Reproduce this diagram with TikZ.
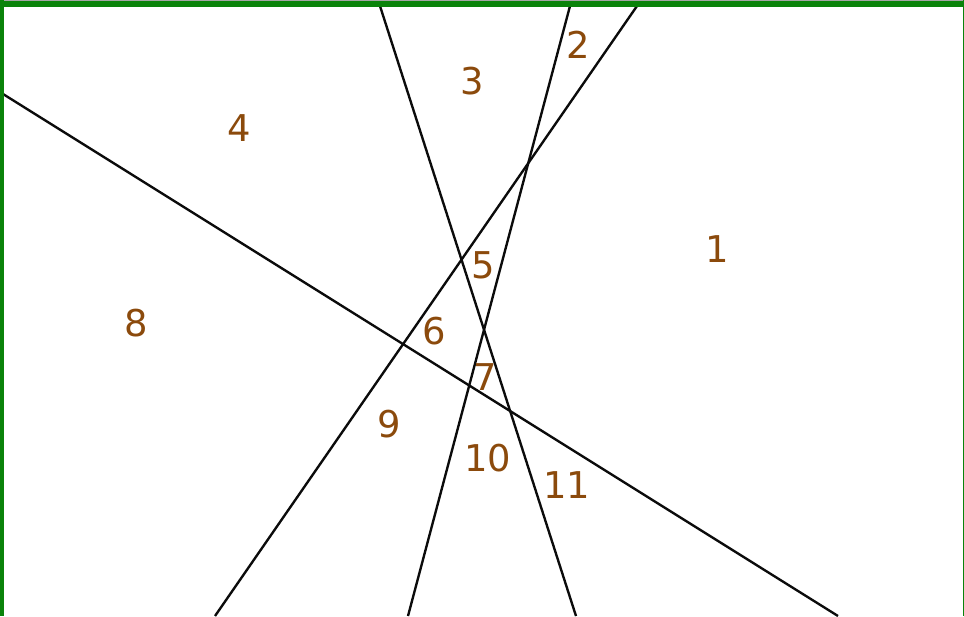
\documentclass[tikz,border=0pt]{standalone}
\usepackage{fontspec}
\setmainfont{DejaVu Sans}
\usepackage{xcolor}
\usepackage{tikz}
\definecolor{frameg}{HTML}{0A830A}
\definecolor{regionbrown}{HTML}{8B4A0C}
\definecolor{ink1}{HTML}{0B0B0B}

\begin{document}
\begin{tikzpicture}[
  x=0.02cm, y=-0.02cm,
  cut/.style={draw=ink1, line width=1.35pt},
  rnum/.style={font=\fontsize{21}{24}\selectfont, text=regionbrown, inner sep=0pt},
  frame/.style={fill=frameg, draw=none}
]
\useasboundingbox (0,0) rectangle (964,616);

% ===== cutting lines =====
\coordinate (a1) at (3,94);    \coordinate (a2) at (838,616);
\coordinate (b1) at (380,6);   \coordinate (b2) at (576,616);
\coordinate (c1) at (570,6);   \coordinate (c2) at (408,616);
\coordinate (d1) at (637,6);   \coordinate (d2) at (215,616);
\draw[cut] (a1) -- (a2);
\draw[cut] (b1) -- (b2);
\draw[cut] (c1) -- (c2);
\draw[cut] (d1) -- (d2);

% ===== region numbers =====
\node[rnum] (r1)  at (717,249) {1};
\node[rnum] (r2)  at (578,45)  {2};
\node[rnum] (r3)  at (472,81)  {3};
\node[rnum] (r4)  at (239,128) {4};
\node[rnum] (r5)  at (483,265) {5};
\node[rnum] (r6)  at (434,331) {6};
\node[rnum] (r7)  at (485,377) {7};
\node[rnum] (r8)  at (136,323) {8};
\node[rnum] (r9)  at (389,424) {9};
\node[rnum] (r10) at (488,458) {10};
\node[rnum] (r11) at (567,485) {11};

% ===== frame =====
\fill[frame] (0,0) rectangle (964,7);
\fill[gray!70] (0,0) rectangle (964,1);
\fill[frame] (0,0) rectangle (4,616);
\fill[frame] (962.5,0) rectangle (964,616);
\end{tikzpicture}
\end{document}
